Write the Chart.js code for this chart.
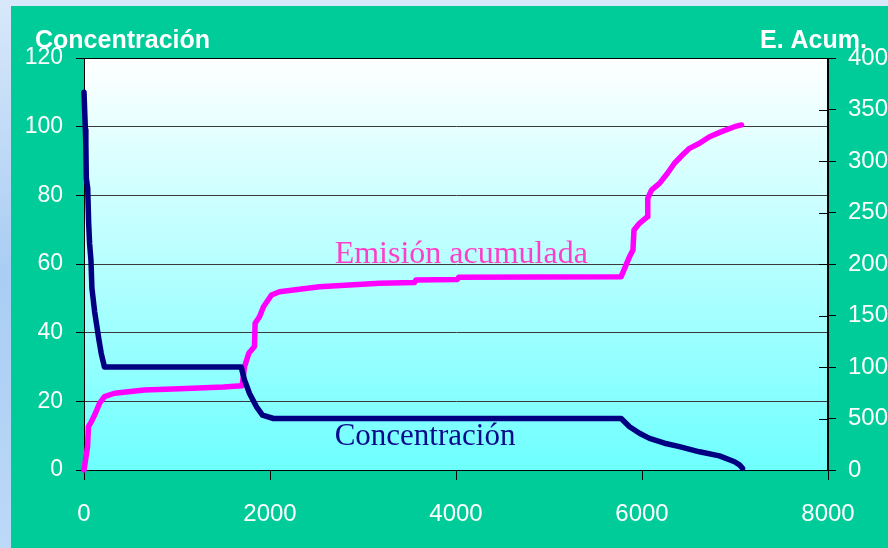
<!DOCTYPE html>
<html>
<head>
<meta charset="utf-8">
<script src="https://cdn.jsdelivr.net/npm/chart.js@4/dist/chart.umd.min.js"></script>
<style>
  html, body { margin: 0; padding: 0; background: #cfe2f8; }
  #wrap { width: 888px; height: 548px; }
</style>
</head>
<body>
<div id="wrap"><canvas id="chart" width="888" height="548"></canvas></div>
<script>
// concentración vs tiempo (eje izquierdo)
const concX = [0, 15, 20, 25, 40, 50, 60, 75, 85, 115, 160, 185, 220, 1690, 1726, 1780, 1855, 1919, 2038,
  5776, 5866, 5973, 6081, 6242, 6403, 6618, 6833, 6995, 7048, 7081];
const concY = [110, 99, 95, 85, 82, 72, 66, 61, 53, 46, 38, 34, 30, 30, 26.2, 22.3, 18.4, 16, 15,
  15, 12.6, 10.7, 9.2, 7.8, 6.8, 5.3, 4.1, 2.4, 1.5, 0.5];

// emisión acumulada (eje derecho)
const emisX = [0, 38, 48, 80, 124, 167, 220, 328, 650, 1027, 1500, 1700, 1726, 1772, 1833, 1840, 1887, 1930,
  2016, 2102, 2317, 2532, 2855, 3177, 3554, 3570, 4016, 4030, 5776, 5866, 5903, 5914, 5973, 6059, 6062,
  6102, 6188, 6274, 6349, 6435, 6511, 6618, 6726, 6855, 6995, 7070];
const emisY = [0, 226, 420, 470, 553, 647, 712, 745, 777, 790, 805, 818, 1003, 1133, 1200, 1424, 1488, 1585,
  1699, 1731, 1754, 1780, 1796, 1813, 1820, 1845, 1850, 1871, 1877, 2071, 2136, 2330, 2395, 2459, 2638,
  2718, 2783, 2881, 2978, 3058, 3123, 3172, 3236, 3285, 3333, 3350];

const xTicks = [0, 2000, 4000, 6000, 8000];
const yTicks = [0, 20, 40, 60, 80, 100, 120];
const y1Ticks = [0, 500, 1000, 1500, 2000, 2500, 3000, 3500, 4000];

const ctx = document.getElementById('chart');

const backdrop = {
  id: 'backdrop',
  beforeDraw(chart) {
    const c = chart.ctx;
    const a = chart.chartArea;
    c.save();
    const side = c.createLinearGradient(0, 0, 0, 548);
    side.addColorStop(0, '#d8e8fa');
    side.addColorStop(0.5, '#a9cdf3');
    side.addColorStop(1, '#bcd9f8');
    c.fillStyle = side;
    c.fillRect(0, 0, 888, 548);
    c.fillStyle = '#00cc99';
    c.fillRect(11, 6, 877, 542);
    const g = c.createLinearGradient(0, a.top, 0, a.bottom);
    g.addColorStop(0, '#ffffff');
    g.addColorStop(1, '#6effff');
    c.fillStyle = g;
    c.fillRect(a.left, a.top, a.right - a.left, a.bottom - a.top);
    c.restore();
  }
};

const frame = {
  id: 'frame',
  beforeDatasetsDraw(chart) {
    const c = chart.ctx;
    const a = chart.chartArea;
    const y1 = chart.scales.y1;
    c.save();
    c.strokeStyle = '#000';
    c.lineWidth = 1;
    c.strokeRect(Math.round(a.left) + 0.5, Math.round(a.top) + 0.5,
      Math.round(a.right - a.left) - 1, Math.round(a.bottom - a.top));
    // right axis ticks also reach inside the plot
    c.beginPath();
    y1.ticks.forEach(t => {
      const p = Math.round(y1.getPixelForValue(t.value)) + 0.5;
      c.moveTo(a.right - 9, p);
      c.lineTo(a.right, p);
    });
    c.stroke();
    c.restore();
  },
  afterDatasetsDraw(chart) {
    const c = chart.ctx;
    const x = chart.scales.x;
    const y = chart.scales.y;
    c.save();
    c.textAlign = 'left';
    c.textBaseline = 'alphabetic';
    c.font = '32px "Liberation Serif", "Times New Roman", serif';
    c.fillStyle = '#ff3ec8';
    c.fillText('Emisión acumulada', x.getPixelForValue(2695), y.getPixelForValue(60.3));
    c.font = '31px "Liberation Serif", "Times New Roman", serif';
    c.fillStyle = '#0a0a8c';
    c.fillText('Concentración', x.getPixelForValue(2695), y.getPixelForValue(7.3));
    c.restore();
  },
  afterDraw(chart) {
    const c = chart.ctx;
    c.save();
    c.fillStyle = '#fff';
    c.font = 'bold 25px "Liberation Sans", Arial, sans-serif';
    c.textBaseline = 'alphabetic';
    c.textAlign = 'left';
    c.fillText('Concentración', 35, 48);
    c.fillText('E. Acum.', 760, 48);
    c.restore();
  }
};

const tickFont = { family: '"Liberation Sans", Arial, sans-serif', size: 24 };
const plain = v => String(v);

new Chart(ctx, {
  type: 'scatter',
  data: {
    datasets: [{
      label: 'Concentración',
      data: concX.map((v, i) => ({ x: v, y: concY[i] })),
      yAxisID: 'y',
      showLine: true,
      borderColor: '#000080',
      backgroundColor: '#000080',
      borderWidth: 5.5,
      borderJoinStyle: 'round',
      borderCapStyle: 'round',
      pointRadius: 0,
      tension: 0,
      clip: 6
    }, {
      label: 'Emisión acumulada',
      data: emisX.map((v, i) => ({ x: v, y: emisY[i] })),
      yAxisID: 'y1',
      showLine: true,
      borderColor: '#ff00ff',
      backgroundColor: '#ff00ff',
      borderWidth: 5.5,
      borderJoinStyle: 'round',
      borderCapStyle: 'round',
      pointRadius: 0,
      tension: 0,
      clip: 6
    }]
  },
  options: {
    responsive: false,
    animation: false,
    layout: { padding: { top: 58, left: 0, right: 0, bottom: 0 } },
    plugins: {
      legend: { display: false },
      tooltip: { enabled: false }
    },
    scales: {
      x: {
        type: 'linear',
        min: 0,
        max: 8000,
        afterBuildTicks: s => { s.ticks = xTicks.map(v => ({ value: v })); },
        afterFit: s => { s.height = 78; },
        grid: { drawOnChartArea: false, tickLength: 10, color: '#000' },
        border: { color: '#000' },
        ticks: { color: '#fff', font: tickFont, padding: 20, maxRotation: 0, callback: plain }
      },
      y: {
        position: 'left',
        min: 0,
        max: 120,
        afterBuildTicks: s => { s.ticks = yTicks.map(v => ({ value: v })); },
        afterFit: s => { s.width = 84; },
        grid: { color: '#3a3a3a', tickColor: '#000', tickLength: 8 },
        border: { color: '#000' },
        ticks: { color: '#fff', font: { ...tickFont, size: 23 }, padding: 13, callback: plain }
      },
      y1: {
        position: 'right',
        min: 0,
        max: 4000,
        afterBuildTicks: s => { s.ticks = y1Ticks.map(v => ({ value: v })); },
        afterFit: s => { s.width = 60; },
        grid: { drawOnChartArea: false, color: '#000', tickLength: 8 },
        border: { color: '#000' },
        ticks: { color: '#fff', font: tickFont, padding: 12, callback: plain }
      }
    }
  },
  plugins: [backdrop, frame]
});
</script>
</body>
</html>
